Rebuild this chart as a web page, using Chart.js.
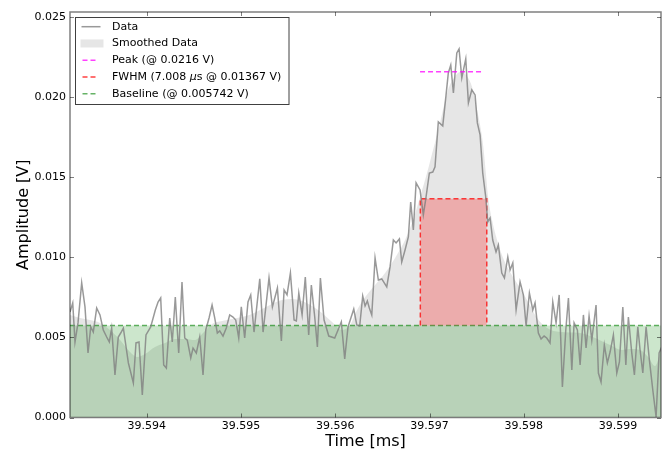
<!DOCTYPE html>
<html>
<head>
<meta charset="utf-8">
<script src="https://cdn.jsdelivr.net/npm/chart.js@4.4.1/dist/chart.umd.min.js"></script>
<style>
  html, body { margin: 0; padding: 0; background: #ffffff; }
  #wrap { width: 668px; height: 451px; position: relative; }
</style>
</head>
<body>
<div id="wrap"><canvas id="c" width="668" height="451"></canvas></div>
<script>
// ---- Data ----
const times = [
  39.593186, 39.593215, 39.593239, 39.593271, 39.593310, 39.593345, 39.593377, 39.593406, 39.593433, 39.593469,
  39.593504, 39.593539, 39.593575, 39.593603, 39.593628, 39.593663, 39.593698, 39.593724, 39.593752, 39.593805,
  39.593858, 39.593886, 39.593918, 39.593953, 39.593992, 39.594042, 39.594091, 39.594120, 39.594148, 39.594180,
  39.594208, 39.594244, 39.594271, 39.594303, 39.594339, 39.594374, 39.594403, 39.594430, 39.594467, 39.594491,
  39.594526, 39.594562, 39.594597, 39.594626, 39.594661, 39.594693, 39.594721, 39.594749, 39.594774, 39.594809,
  39.594844, 39.594880, 39.594915, 39.594944, 39.594976, 39.595003, 39.595039, 39.595074, 39.595103, 39.595138,
  39.595199, 39.595234, 39.595297, 39.595333, 39.595386, 39.595428, 39.595457, 39.595488, 39.595524, 39.595563,
  39.595587, 39.595613, 39.595648, 39.595682, 39.595718, 39.595746, 39.595782, 39.595810, 39.595842, 39.595881,
  39.595931, 39.595994, 39.596029, 39.596064, 39.596100, 39.596135, 39.596196, 39.596228, 39.596259, 39.596291,
  39.596316, 39.596340, 39.596361, 39.596387, 39.596422, 39.596457, 39.596493, 39.596546, 39.596581, 39.596616,
  39.596645, 39.596680, 39.596705, 39.596740, 39.596775, 39.596800, 39.596828, 39.596857, 39.596899, 39.596934,
  39.596963, 39.596998, 39.597034, 39.597058, 39.597093, 39.597140, 39.597175, 39.597199, 39.597225, 39.597253,
  39.597289, 39.597313, 39.597342, 39.597384, 39.597412, 39.597448, 39.597483, 39.597507, 39.597536, 39.597564,
  39.597596, 39.597617, 39.597642, 39.597670, 39.597705, 39.597730, 39.597766, 39.597794, 39.597830, 39.597854,
  39.597883, 39.597918, 39.597960, 39.597995, 39.598024, 39.598059, 39.598095, 39.598119, 39.598154, 39.598183,
  39.598215, 39.598243, 39.598278, 39.598307, 39.598342, 39.598375, 39.598409, 39.598445, 39.598473, 39.598509,
  39.598533, 39.598568, 39.598597, 39.598632, 39.598660, 39.598692, 39.598721, 39.598766, 39.598791, 39.598819,
  39.598854, 39.598886, 39.598915, 39.598950, 39.598986, 39.599014, 39.599050, 39.599082, 39.599109, 39.599145,
  39.599173, 39.599209, 39.599233, 39.599262, 39.599297, 39.599332, 39.599368, 39.599403, 39.599435, 39.599463
];
const amplitude = [
  0.00659, 0.00716, 0.00472, 0.00591, 0.00841, 0.00691, 0.00403, 0.00566, 0.00534, 0.00684,
  0.00641, 0.00547, 0.00503, 0.00472, 0.00559, 0.00266, 0.00503, 0.00528, 0.00559, 0.00341,
  0.00216, 0.00466, 0.00472, 0.00141, 0.00516, 0.00566, 0.00672, 0.00722, 0.00747, 0.00328,
  0.00309, 0.00622, 0.00472, 0.00753, 0.00403, 0.00847, 0.00497, 0.00484, 0.00372, 0.00434,
  0.00403, 0.00503, 0.00266, 0.00547, 0.00622, 0.00703, 0.00622, 0.00528, 0.00541, 0.00509,
  0.00559, 0.00641, 0.00628, 0.00609, 0.00497, 0.00691, 0.00497, 0.00722, 0.00766, 0.00534,
  0.00866, 0.00534, 0.00872, 0.00691, 0.00809, 0.00478, 0.00797, 0.00766, 0.00903, 0.00609,
  0.00603, 0.00778, 0.00641, 0.00878, 0.00516, 0.00828, 0.00628, 0.00441, 0.00872, 0.00609,
  0.00509, 0.00497, 0.00547, 0.00597, 0.00366, 0.00566, 0.00678, 0.00578, 0.00572, 0.00759,
  0.00697, 0.00728, 0.00684, 0.00641, 0.00997, 0.00859, 0.00866, 0.00816, 0.00941, 0.01109,
  0.01091, 0.01116, 0.00972, 0.01047, 0.01128, 0.01347, 0.01172, 0.01466, 0.01422, 0.01266,
  0.01378, 0.01528, 0.01534, 0.01566, 0.01847, 0.01822, 0.02016, 0.02153, 0.02203, 0.02028,
  0.02278, 0.02303, 0.02122, 0.02241, 0.01966, 0.02047, 0.02016, 0.01841, 0.01766, 0.01528,
  0.01378, 0.01222, 0.01247, 0.01109, 0.01034, 0.01078, 0.00903, 0.00872, 0.01003, 0.00922,
  0.00966, 0.00672, 0.00847, 0.00766, 0.00572, 0.00778, 0.00672, 0.00716, 0.00528, 0.00491,
  0.00509, 0.00497, 0.00466, 0.00722, 0.00591, 0.00766, 0.00191, 0.00547, 0.00747, 0.00297,
  0.00591, 0.00547, 0.00328, 0.00641, 0.00434, 0.00634, 0.00484, 0.00703, 0.00278, 0.00222,
  0.00453, 0.00341, 0.00409, 0.00516, 0.00278, 0.00347, 0.00691, 0.00328, 0.00628, 0.00403,
  0.00266, 0.00566, 0.00422, 0.00278, 0.00566, 0.00359, 0.00172, 0.00003, 0.00403, 0.00441
];
const smoothTimes = [
  39.593186, 39.593292, 39.593398, 39.593504, 39.593610, 39.593717, 39.593823, 39.593897, 39.593982, 39.594088,
  39.594194, 39.594300, 39.594406, 39.594512, 39.594597, 39.594693, 39.594799, 39.594905, 39.595011, 39.595117,
  39.595223, 39.595329, 39.595435, 39.595541, 39.595647, 39.595753, 39.595859, 39.595966, 39.596072, 39.596157,
  39.596231, 39.596294, 39.596422, 39.596528, 39.596634, 39.596740, 39.596825, 39.596899, 39.596973, 39.597037,
  39.597111, 39.597196, 39.597260, 39.597324, 39.597387, 39.597451, 39.597493, 39.597536, 39.597568, 39.597599,
  39.597621, 39.597663, 39.597716, 39.597780, 39.597854, 39.597939, 39.598034, 39.598140, 39.598247, 39.598384,
  39.598597, 39.598756, 39.598915, 39.599042, 39.599127, 39.599233, 39.599318, 39.599392, 39.599456
];
const smoothValues = [
  0.00641, 0.00622, 0.00609, 0.00591, 0.00547, 0.00484, 0.00409, 0.00378, 0.00397, 0.00441,
  0.00466, 0.00491, 0.00491, 0.00484, 0.00528, 0.00584, 0.00603, 0.00616, 0.00628, 0.00647,
  0.00678, 0.00709, 0.00734, 0.00741, 0.00728, 0.00697, 0.00653, 0.00597, 0.00547, 0.00578,
  0.00672, 0.00734, 0.00828, 0.00903, 0.00997, 0.01109, 0.01234, 0.01378, 0.01528, 0.01672,
  0.01841, 0.02047, 0.02122, 0.02159, 0.02141, 0.02066, 0.01953, 0.01828, 0.01703, 0.01516,
  0.01378, 0.01234, 0.01109, 0.00997, 0.00909, 0.00828, 0.00734, 0.00622, 0.00559, 0.00534,
  0.00528, 0.00497, 0.00453, 0.00422, 0.00428, 0.00422, 0.00378, 0.00322, 0.00422
];
const peakLevel = 0.0216;
const peakSpan = [39.596899, 39.597578];
const fwhmLevel = 0.01367;
const fwhmSpan = [39.596902, 39.597607];
const baselineLevel = 0.005742;
const xRange = [39.593186, 39.599455];
const yRange = [0, 0.02534];
const xTicks = [39.594, 39.595, 39.596, 39.597, 39.598, 39.599];
const yTicks = [0, 0.005, 0.010, 0.015, 0.020, 0.025];
const legendLabels = ['Data', 'Smoothed Data', 'Peak (@ 0.0216 V)', 'FWHM (7.008 \u03BCs @ 0.01367 V)', 'Baseline (@ 0.005742 V)'];
const xTitle = 'Time [ms]';
const yTitle = 'Amplitude [V]';

// ---- styling ----
const FONT = '"DejaVu Sans", "Bitstream Vera Sans", sans-serif';
const C_DATA = 'rgba(128,128,128,0.8)';
const C_SMOOTH = 'rgba(128,128,128,0.2)';
const C_PEAK = 'rgba(255,0,255,0.75)';
const C_FWHM = 'rgba(255,0,0,0.75)';
const C_FWHM_FILL = 'rgba(255,0,0,0.25)';
const C_BASE = 'rgba(0,128,0,0.6)';
const C_BASE_FILL = 'rgba(0,128,0,0.2)';
const C_SPINE = 'rgba(0,0,0,0.5)';
const DASH = [5, 3];

const pts = (xs, ys) => xs.map((x, i) => ({ x: x, y: ys[i] }));

const axesDeco = {
  id: 'axesDeco',
  afterDatasetsDraw(chart) {
    const { ctx, chartArea: a, scales: { x, y } } = chart;
    ctx.save();
    ctx.strokeStyle = C_SPINE;
    ctx.lineWidth = 1;
    ctx.beginPath();
    for (const v of xTicks) {
      const px = Math.round(x.getPixelForValue(v)) + 0.5;
      ctx.moveTo(px, a.bottom); ctx.lineTo(px, a.bottom - 4);
      ctx.moveTo(px, a.top); ctx.lineTo(px, a.top + 4);
    }
    for (const v of yTicks) {
      const py = Math.round(y.getPixelForValue(v)) + 0.5;
      ctx.moveTo(a.left, py); ctx.lineTo(a.left + 4, py);
      ctx.moveTo(a.right, py); ctx.lineTo(a.right - 4, py);
    }
    ctx.stroke();
    ctx.lineWidth = 1.5;
    ctx.strokeRect(a.left, a.top, a.right - a.left, a.bottom - a.top);
    ctx.restore();
  }
};

const boxLegend = {
  id: 'boxLegend',
  afterDraw(chart) {
    const { ctx, chartArea: a } = chart;
    const bx = a.left + 5.5, by = a.top + 5.5, bw = 213.5, bh = 87;
    ctx.save();
    ctx.fillStyle = '#ffffff';
    ctx.fillRect(bx, by, bw, bh);
    ctx.strokeStyle = 'rgba(0,0,0,0.75)';
    ctx.lineWidth = 1;
    ctx.strokeRect(bx, by, bw, bh);
    const hx0 = bx + 6, hx1 = bx + 25, tx = bx + 36.5;
    const rowY = i => by + 9.2 + i * 16.75;
    ctx.lineWidth = 1.5;
    // Data
    ctx.strokeStyle = C_DATA; ctx.setLineDash([]);
    ctx.beginPath(); ctx.moveTo(hx0, rowY(0)); ctx.lineTo(hx1, rowY(0)); ctx.stroke();
    // Smoothed
    ctx.fillStyle = C_SMOOTH;
    ctx.fillRect(hx0 - 1, rowY(1) - 4, 23, 8);
    // dashed
    const dashed = (i, col) => {
      ctx.strokeStyle = col; ctx.setLineDash(DASH);
      ctx.beginPath(); ctx.moveTo(hx0 + 1, rowY(i)); ctx.lineTo(hx1 - 4, rowY(i)); ctx.stroke();
    };
    dashed(2, C_PEAK); dashed(3, C_FWHM); dashed(4, C_BASE);
    ctx.setLineDash([]);
    ctx.fillStyle = '#000';
    ctx.textBaseline = 'middle';
    ctx.textAlign = 'left';
    const normal = '11px ' + FONT, italic = 'italic 11px ' + FONT;
    legendLabels.forEach((lab, i) => {
      const mu = lab.indexOf('\u03BC');
      if (mu < 0) {
        ctx.font = normal; ctx.fillText(lab, tx, rowY(i));
      } else {
        let x = tx;
        const parts = [[lab.slice(0, mu), normal], ['\u03BC', italic], [lab.slice(mu + 1), normal]];
        for (const [s, f] of parts) { ctx.font = f; ctx.fillText(s, x, rowY(i)); x += ctx.measureText(s).width; }
      }
    });
    ctx.restore();
  }
};

new Chart(document.getElementById('c'), {
  type: 'line',
  data: {
    datasets: [
      { label: legendLabels[0], data: pts(times, amplitude), borderColor: C_DATA, borderWidth: 1.5,
        pointRadius: 0, fill: false, tension: 0, order: 2 },
      { label: legendLabels[1], data: pts(smoothTimes, smoothValues), borderColor: 'transparent', borderWidth: 0,
        backgroundColor: C_SMOOTH, fill: 'origin', pointRadius: 0, cubicInterpolationMode: 'monotone', order: 6 },
      { label: legendLabels[4], data: pts(xRange, [baselineLevel, baselineLevel]), borderColor: C_BASE, borderWidth: 1.5,
        borderDash: DASH, backgroundColor: C_BASE_FILL, fill: 'origin', pointRadius: 0, order: 5 },
      { label: legendLabels[3], data: pts([fwhmSpan[0], fwhmSpan[0], fwhmSpan[1], fwhmSpan[1]],
          [baselineLevel, fwhmLevel, fwhmLevel, baselineLevel]),
        borderColor: C_FWHM, borderWidth: 1.5, borderDash: DASH, backgroundColor: C_FWHM_FILL,
        fill: { value: baselineLevel }, pointRadius: 0, order: 4 },
      { label: legendLabels[2], data: pts(peakSpan, [peakLevel, peakLevel]), borderColor: C_PEAK, borderWidth: 1.5,
        borderDash: DASH, fill: false, pointRadius: 0, order: 1 }
    ]
  },
  options: {
    responsive: false,
    animation: false,
    events: [],
    layout: { padding: { top: 12, right: 7, left: 0, bottom: 0 } },
    plugins: { legend: { display: false }, tooltip: { enabled: false } },
    scales: {
      x: {
        type: 'linear', min: xRange[0], max: xRange[1],
        afterBuildTicks: s => { s.ticks = xTicks.map(v => ({ value: v })); },
        afterFit: s => { s.height = 33.5; },
        grid: { display: false, drawTicks: false },
        border: { display: false },
        ticks: { padding: 2, autoSkip: false, maxRotation: 0, color: '#000',
          font: { family: FONT, size: 11 }, callback: v => Number(v).toFixed(3) },
        title: { display: true, text: xTitle, color: '#000',
          font: { family: FONT, size: 16, lineHeight: 1 }, padding: { top: 0, bottom: 1 } }
      },
      y: {
        type: 'linear', min: yRange[0], max: yRange[1],
        afterBuildTicks: s => { s.ticks = yTicks.map(v => ({ value: v })); },
        afterFit: s => { s.width = 70; },
        grid: { display: false, drawTicks: false },
        border: { display: false },
        ticks: { padding: 4, color: '#000', font: { family: FONT, size: 11 },
          callback: v => Number(v).toFixed(3) },
        title: { display: true, text: yTitle, color: '#000',
          font: { family: FONT, size: 16, lineHeight: 1 }, padding: { top: 15.5, bottom: 0 } }
      }
    }
  },
  plugins: [axesDeco, boxLegend]
});
</script>
</body>
</html>
